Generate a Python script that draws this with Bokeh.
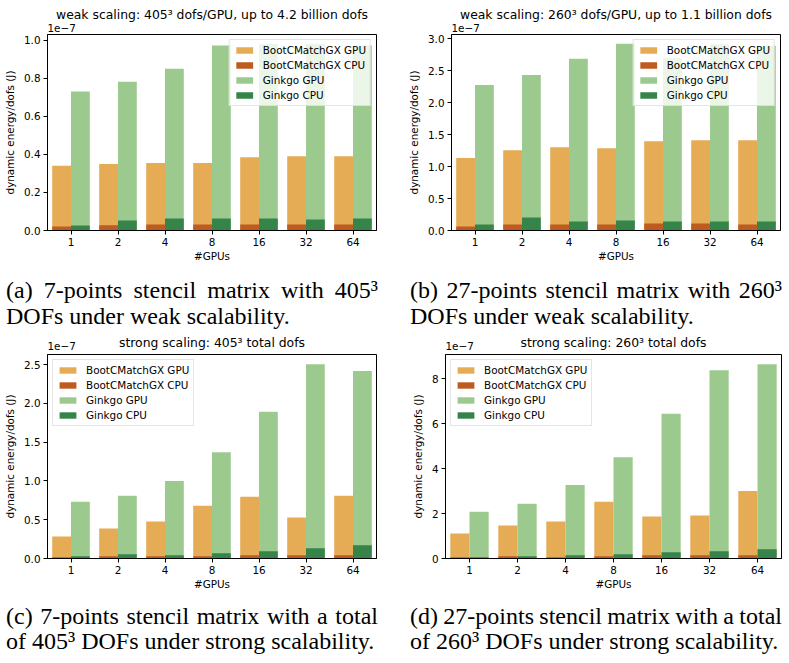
from bokeh.plotting import figure
from bokeh.layouts import column, row
from bokeh.models import FixedTicker, PrintfTickFormatter, Legend, LegendItem, Title, Div
from bokeh.embed import file_html
from bokeh.resources import INLINE

gpus = ["1", "2", "4", "8", "16", "32", "64"]
series = ["BootCMatchGX GPU", "BootCMatchGX CPU", "Ginkgo GPU", "Ginkgo CPU"]
colors = ["#E6AB55", "#BD5B22", "#9CCA8E", "#37844B"]

# dynamic energy per dof, in units of 1e-7 J
a_bcm_gpu = [0.340, 0.350, 0.355, 0.355, 0.385, 0.390, 0.390]
a_bcm_cpu = [0.021, 0.027, 0.032, 0.032, 0.032, 0.032, 0.032]
a_gko_gpu = [0.730, 0.782, 0.850, 0.972, 0.981, 0.981, 0.972]
a_gko_cpu = [0.026, 0.053, 0.063, 0.063, 0.063, 0.058, 0.063]

b_bcm_gpu = [1.134, 1.255, 1.302, 1.286, 1.396, 1.411, 1.411]
b_bcm_cpu = [0.063, 0.094, 0.094, 0.094, 0.110, 0.110, 0.094]
b_gko_gpu = [2.274, 2.431, 2.682, 2.917, 2.690, 2.910, 2.886]
b_gko_cpu = [0.094, 0.204, 0.141, 0.157, 0.141, 0.141, 0.141]

c_bcm_gpu = [0.285, 0.387, 0.476, 0.680, 0.795, 0.527, 0.808]
c_bcm_cpu = [0.017, 0.030, 0.030, 0.030, 0.043, 0.043, 0.043]
c_gko_gpu = [0.731, 0.808, 0.999, 1.369, 1.892, 2.504, 2.415]
c_gko_cpu = [0.030, 0.055, 0.043, 0.068, 0.094, 0.132, 0.170]

d_bcm_gpu = [1.116, 1.468, 1.645, 2.526, 1.865, 1.909, 3.010]
d_bcm_cpu = [0.060, 0.100, 0.060, 0.100, 0.147, 0.147, 0.147]
d_gko_gpu = [2.085, 2.438, 3.275, 4.508, 6.446, 8.385, 8.649]
d_gko_cpu = [0.060, 0.100, 0.147, 0.190, 0.280, 0.320, 0.410]

titles = [
    "weak scaling: 405\u00b3 dofs/GPU, up to 4.2 billion dofs",
    "weak scaling: 260\u00b3 dofs/GPU, up to 1.1 billion dofs",
    "strong scaling: 405\u00b3 total dofs",
    "strong scaling: 260\u00b3 total dofs",
]
captions = [
    ("(a) 7-points stencil matrix with 405\u00b3", "DOFs under weak scalability."),
    ("(b) 27-points stencil matrix with 260\u00b3", "DOFs under weak scalability."),
    ("(c) 7-points stencil matrix with a total", "of 405\u00b3 DOFs under strong scalability."),
    ("(d) 27-points stencil matrix with a total", "of 260\u00b3 DOFs under strong scalability."),
]
y_label = "dynamic energy/dofs (J)"
x_label = "#GPUs"
offset_text = "1e\u22127"

FONT = "DejaVu Sans"
INK = "#000000"


def make_panel(vals, title, step, fmt, legend_loc, width, height, borders,
               offset_standoff, title_standoff):
    bcm_gpu, bcm_cpu, gko_gpu, gko_cpu = vals
    n = len(gpus)
    left, right, top, bottom = borders
    ymax = max(max(v) for v in vals) * 1.05
    p = figure(width=width, height=height, x_range=(-0.5, n - 0.5), y_range=(0, ymax),
               output_backend="svg", toolbar_location=None,
               min_border_left=left, min_border_right=right,
               min_border_top=top, min_border_bottom=bottom,
               background_fill_color="white", border_fill_color="white")
    p.margin = (0, 0, 0, 0)
    p.xgrid.visible = False
    p.ygrid.visible = False
    p.outline_line_color = INK
    p.outline_line_width = 1
    p.outline_line_alpha = 1

    pos = list(range(n))
    xb = [i - 0.2 for i in pos]
    xg = [i + 0.2 for i in pos]
    r1 = p.vbar(x=xb, top=bcm_gpu, width=0.4, fill_color=colors[0], line_color=None)
    r3 = p.vbar(x=xg, top=gko_gpu, width=0.4, fill_color=colors[2], line_color=None)
    r2 = p.vbar(x=xb, top=bcm_cpu, width=0.4, fill_color=colors[1], line_color=None)
    r4 = p.vbar(x=xg, top=gko_cpu, width=0.4, fill_color=colors[3], line_color=None)

    legend = Legend(items=[LegendItem(label=series[0], renderers=[r1]),
                           LegendItem(label=series[1], renderers=[r2]),
                           LegendItem(label=series[2], renderers=[r3]),
                           LegendItem(label=series[3], renderers=[r4])],
                    location=legend_loc)
    legend.label_text_font = FONT
    legend.label_text_font_size = "10.4px"
    legend.label_text_color = INK
    legend.glyph_width = 21
    legend.glyph_height = 8
    legend.label_height = 12
    legend.label_standoff = 8
    legend.spacing = 3
    legend.padding = 4
    legend.margin = 5
    legend.border_line_color = "#cccccc"
    legend.border_line_width = 1
    legend.background_fill_color = "white"
    legend.background_fill_alpha = 0.8
    p.add_layout(legend)

    ticks = []
    k = 0
    while k * step <= ymax + 1e-9:
        ticks.append(k * step)
        k += 1

    for ax in (p.xaxis[0], p.yaxis[0]):
        ax.axis_line_color = INK
        ax.major_tick_line_color = INK
        ax.minor_tick_line_color = None
        ax.major_tick_in = 0
        ax.major_tick_out = 4
        ax.major_label_text_font = FONT
        ax.major_label_text_font_size = "10.4px"
        ax.major_label_text_color = INK
        ax.axis_label_text_font = FONT
        ax.axis_label_text_font_size = "10.4px"
        ax.axis_label_text_font_style = "normal"
        ax.axis_label_text_color = INK
        ax.major_label_standoff = 3

    p.xaxis.ticker = FixedTicker(ticks=pos)
    p.xaxis.major_label_overrides = {i: g for i, g in enumerate(gpus)}
    p.xaxis.axis_label = x_label
    p.xaxis.axis_label_standoff = 1
    p.yaxis.ticker = FixedTicker(ticks=ticks)
    p.yaxis.formatter = PrintfTickFormatter(format=fmt)
    p.yaxis.axis_label = y_label
    p.yaxis.axis_label_standoff = 5

    p.add_layout(Title(text=offset_text, align="left", standoff=offset_standoff,
                       text_font=FONT, text_font_size="10.4px",
                       text_font_style="normal", text_color=INK), "above")
    p.add_layout(Title(text=title, align="center", standoff=title_standoff,
                       text_font=FONT, text_font_size="12.4px",
                       text_font_style="normal", text_color=INK), "above")
    return p


def caption(lines, width, height, pad_left, pad_top, line_h):
    l1, l2 = lines
    html = ('<div style="font-family:\'Liberation Serif\',\'Times New Roman\',serif;'
            f'font-size:24px;line-height:{line_h}px;color:#000;'
            f'padding:{pad_top}px 0 0 {pad_left}px;">'
            '<div style="width:372px;text-align:justify;text-align-last:justify;'
            f'white-space:nowrap;word-spacing:-1px;">{l1}</div>'
            f'<div style="white-space:nowrap;">{l2}</div></div>')
    return Div(text=html, width=width, height=height, margin=(0, 0, 0, 0))


pa = make_panel((a_bcm_gpu, a_bcm_cpu, a_gko_gpu, a_gko_cpu), titles[0], 0.2, "%.1f",
                "top_right", 395, 268, (47, 19, 34, 38), 6, -6)
pb = make_panel((b_bcm_gpu, b_bcm_cpu, b_gko_gpu, b_gko_cpu), titles[1], 0.5, "%.1f",
                "top_right", 394, 268, (56, 9, 34, 38), 6, -6)
pc = make_panel((c_bcm_gpu, c_bcm_cpu, c_gko_gpu, c_gko_cpu), titles[2], 0.5, "%.1f",
                "top_left", 395, 262, (47, 19, 24, 33), 10, -30)
pd = make_panel((d_bcm_gpu, d_bcm_cpu, d_gko_gpu, d_gko_cpu), titles[3], 2, "%d",
                "top_left", 394, 262, (50, 8, 24, 33), 10, -30)

ca = caption(captions[0], 395, 62, 6, 9, 26)
cb = caption(captions[1], 394, 62, 15, 9, 26)
cc = caption(captions[2], 395, 71, 6, 12, 25)
cd = caption(captions[3], 394, 71, 15, 12, 25)

layout = column(row(pa, pb, spacing=0), row(ca, cb, spacing=0),
                row(pc, pd, spacing=0), row(cc, cd, spacing=0), spacing=0)

with open("out.html", "w") as f:
    f.write(file_html(layout, INLINE))
